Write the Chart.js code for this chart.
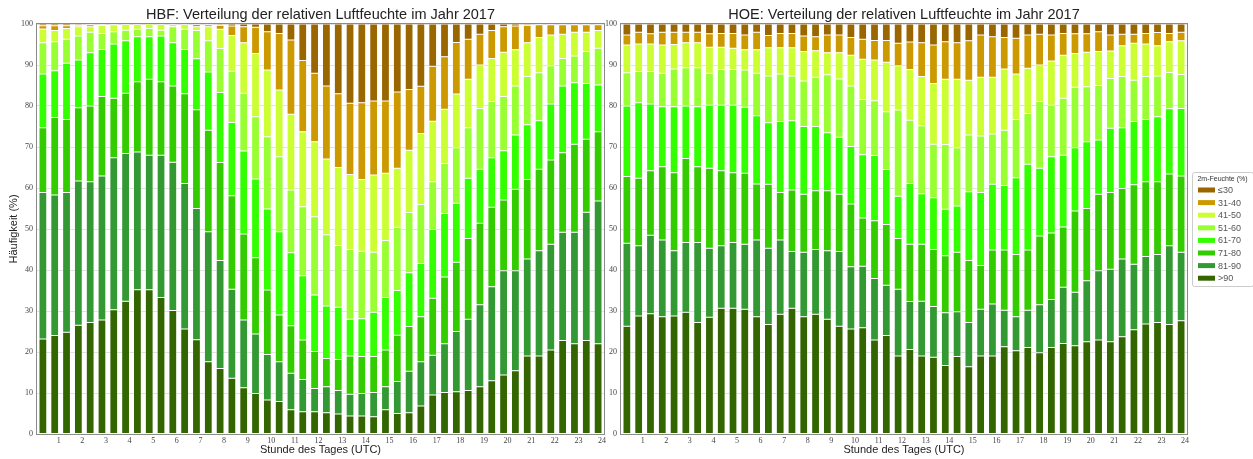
<!DOCTYPE html>
<html>
<head>
<meta charset="utf-8">
<script src="https://cdn.jsdelivr.net/npm/chart.js@4.4.1/dist/chart.umd.min.js"></script>
<style>
  html, body { margin: 0; padding: 0; background: #fff; }
  body { width: 1253px; height: 459px; position: relative; overflow: hidden; }
  .box { position: absolute; top: 0; height: 459px; }
  #boxHbf { left: 0; width: 610px; }
  #boxHoe { left: 604px; width: 649px; }
</style>
</head>
<body>
<div class="box" id="boxHbf"><canvas id="chartHbf"></canvas></div>
<div class="box" id="boxHoe"><canvas id="chartHoe"></canvas></div>
<script>
// halbstündliche Balken, beschriftet wird jede volle Stunde
const halfHours = ['00:30','01:00','01:30','02:00','02:30','03:00','03:30','04:00','04:30','05:00',
    '05:30','06:00','06:30','07:00','07:30','08:00','08:30','09:00','09:30','10:00',
    '10:30','11:00','11:30','12:00','12:30','13:00','13:30','14:00','14:30','15:00',
    '15:30','16:00','16:30','17:00','17:30','18:00','18:30','19:00','19:30','20:00',
    '20:30','21:00','21:30','22:00','22:30','23:00','23:30','24:00'];
const hourTicks = ['1','2','3','4','5','6','7','8','9','10','11','12',
    '13','14','15','16','17','18','19','20','21','22','23','24'];

// Klassen von unten nach oben
const classLabels = ['>90', '81-90', '71-80', '61-70', '51-60', '41-50', '31-40', '≤30'];
const classColors = ['#336600', '#339933', '#33cc00', '#33ff00', '#99ff33', '#ccff33', '#cc9900', '#996600'];

// Oberkante (kumuliert, %) jeder Klasse; ≤30 reicht bis 100
// HBF
const hbfGt90 = [23.2,24.0,24.8,26.5,27.2,27.8,30.3,32.4,35.2,35.2, 33.3,30.1,25.6,23.0,17.6,16.0,13.6,11.3,9.9,8.3,
    7.9,5.9,5.4,5.4,5.2,4.9,4.4,4.4,4.2,5.9, 5.0,5.2,6.8,9.5,10.1,10.3,10.6,11.5,13.0,14.4, 15.4,19.0,19.0,20.5,22.8,22.0,22.8,22.0];
const hbf81to90 = [58.9,58.3,58.9,61.7,61.5,62.9,67.4,68.4,68.8,68.0, 68.0,66.3,61.1,55.0,49.3,42.3,35.3,27.8,24.4,19.4,
    17.6,14.8,13.3,11.1,11.5,10.6,9.7,9.9,10.1,11.5, 12.8,15.3,17.6,19.2,22.0,25.0,28.0,31.5,35.9,39.8, 39.8,42.7,44.7,46.3,49.2,49.2,54.1,56.8];
const hbf71to80 = [74.7,77.2,76.7,79.6,80.0,82.3,81.9,83.1,85.9,86.5, 85.9,84.9,83.0,79.1,74.1,66.2,58.1,48.8,43.0,35.1,
    29.0,26.4,22.9,20.1,18.4,18.2,19.0,18.9,18.9,20.5, 24.1,26.2,28.6,33.1,38.3,41.9,47.7,51.4,55.3,57.1, 59.7,62.1,64.6,66.8,68.6,70.7,71.9,73.7];
const hbf61to70 = [87.8,88.6,90.4,91.2,93.0,93.8,95.1,95.9,96.9,96.9, 97.1,95.4,93.8,91.5,88.3,83.3,76.0,69.0,62.2,54.9,
    49.3,44.2,38.6,33.9,31.2,30.9,28.0,28.1,29.7,33.3, 35.0,39.3,41.6,49.9,53.8,56.3,62.4,64.6,67.4,69.1, 72.9,75.4,76.4,80.5,84.9,85.7,85.5,85.1];
const hbf51to60 = [95.4,95.7,96.3,97.1,98.0,97.7,98.1,98.5,98.7,98.9, 98.5,99.3,98.7,98.4,95.9,94.0,88.5,83.1,77.4,72.5,
    67.6,59.5,55.4,53.0,48.6,46.0,45.0,44.6,44.3,47.2, 50.4,54.0,56.0,61.5,66.0,69.8,74.7,79.4,81.1,82.3, 84.9,87.2,88.1,89.8,91.6,92.2,93.3,94.1];
const hbf41to50 = [98.8,98.4,98.9,99.3,99.3,99.7,99.8,99.9,99.9,100, 99.9,99.9,99.9,99.3,99.3,98.7,97.2,95.4,92.8,88.8,
    83.9,78.0,73.7,71.3,67.1,65.0,63.3,62.1,63.2,63.6, 64.8,69.2,73.3,76.3,79.2,82.9,86.5,90.0,91.6,93.1, 93.7,95.4,96.7,97.3,97.5,98.0,98.0,98.4];
const hbf31to40 = [99.6,99.6,99.6,99.7,99.8,99.9,100,100,100,100, 100,100,100,99.9,99.8,99.7,99.5,99.3,99.2,98.1,
    97.7,96.1,91.1,88.0,84.9,83.0,80.7,80.8,81.2,81.2, 83.4,84.0,84.8,89.7,92.0,95.5,96.3,97.5,98.4,99.3, 99.5,99.7,99.8,99.8,99.8,99.8,99.8,99.8];

// HOE
const hoeGt90 = [26.3,28.8,29.3,28.6,28.8,29.7,27.2,28.5,30.7,30.7, 30.4,28.6,26.7,29.2,30.7,28.6,29.2,28.0,26.3,25.6,
    25.9,22.9,24.0,19.0,20.6,19.0,18.7,16.7,18.9,16.4, 19.0,19.0,21.3,20.3,21.1,19.8,21.1,22.1,21.5,22.5, 22.9,22.5,23.7,25.4,26.8,27.2,26.7,27.6];
const hoe81to90 = [46.5,45.9,48.5,47.3,44.7,46.7,46.7,45.3,45.9,46.7, 46.3,47.3,45.3,47.3,44.5,44.3,45.0,44.7,44.5,40.8,
    40.9,37.9,36.3,35.3,32.3,32.4,31.1,29.6,29.8,27.2, 30.4,31.7,30.2,28.6,30.2,31.5,32.8,35.8,34.6,37.4, 39.8,40.2,42.7,41.4,43.3,43.8,45.9,44.3];
const hoe71to80 = [62.8,62.4,64.2,65.2,63.7,67.2,65.2,64.8,64.2,63.7, 63.6,61.0,60.9,58.9,59.5,58.5,59.3,59.3,58.5,56.1,
    52.7,52.0,51.1,47.7,46.3,46.3,45.0,43.5,44.3,42.3, 41.1,44.9,44.9,43.8,44.9,48.3,49.0,50.5,54.4,55.0, 58.5,58.9,59.9,60.8,61.5,61.5,63.4,62.9];
const hoe61to70 = [80.0,80.8,80.5,79.8,79.8,80.0,79.8,80.2,80.2,80.2, 79.7,77.6,75.9,76.2,76.4,75.0,75.0,73.5,72.4,70.1,
    68.1,67.9,64.5,58.0,61.1,58.6,57.6,54.8,55.6,59.1, 58.9,60.9,60.6,62.5,65.8,64.8,67.6,68.0,69.8,71.3, 71.7,74.6,74.7,76.2,76.7,77.4,79.3,79.4];
const hoe51to60 = [88.1,88.4,88.4,88.0,89.0,89.3,89.3,88.0,88.9,88.9, 88.8,88.0,87.3,87.8,87.3,86.1,87.0,87.6,86.6,84.9,
    81.6,81.3,78.6,79.0,76.5,75.2,70.7,70.6,69.8,72.9, 72.7,73.2,74.1,76.7,78.2,81.1,80.2,81.9,84.6,84.7, 85.0,86.7,87.2,86.3,87.2,87.3,88.2,87.7];
const hoe41to50 = [94.9,95.1,95.1,94.9,95.0,95.4,95.4,94.3,94.3,94.1, 93.7,93.7,94.2,94.2,94.2,93.3,93.5,93.0,93.0,92.4,
    91.4,91.2,90.7,89.8,88.9,87.2,85.5,86.5,86.5,86.3, 87.0,87.0,89.0,87.8,89.2,90.0,91.0,92.4,92.8,93.1, 93.3,93.4,94.7,95.3,95.1,94.7,95.7,95.9];
const hoe31to40 = [97.3,98.0,97.6,98.0,98.0,98.0,98.0,97.6,97.7,97.7, 97.3,98.0,97.2,97.7,97.7,97.1,96.9,97.3,97.3,96.7,
    96.3,96.0,96.0,95.3,95.6,95.4,94.9,95.7,95.4,95.9, 97.3,96.9,96.7,96.5,97.3,97.5,97.3,97.7,97.6,97.6, 98.1,97.3,97.5,97.5,97.7,97.9,97.7,98.0];

const hbfEdges = [hbfGt90, hbf81to90, hbf71to80, hbf61to70, hbf51to60, hbf41to50, hbf31to40];
const hoeEdges = [hoeGt90, hoe81to90, hoe71to80, hoe61to70, hoe51to60, hoe41to50, hoe31to40];

// Anteile je Klasse aus den kumulierten Oberkanten
function classShares(edges) {
    const tops = [...edges, halfHours.map(() => 100)];
    return tops.map((top, k) => top.map((v, i) => +(v - (k ? tops[k - 1][i] : 0)).toFixed(2)));
}

// Rahmen um die Zeichenfläche
const framePlugin = {
    id: 'frame',
    afterDraw(chart) {
        const { ctx, chartArea: a } = chart;
        ctx.save();
        ctx.strokeStyle = '#8a8a8a';
        ctx.lineWidth = 1;
        ctx.strokeRect(Math.round(a.left) - 0.5, Math.round(a.top) - 0.5, Math.round(a.width) + 1, Math.round(a.height) + 1);
        ctx.restore();
    }
};

// Legende mit Kasten rechts neben dem HOE-Diagramm
const legendBoxPlugin = {
    id: 'legendBox',
    afterDraw(chart, args, o) {
        if (!o.show) return;
        const { ctx } = chart;
        const sets = chart.data.datasets.slice().reverse();
        ctx.save();
        ctx.fillStyle = '#fff';
        ctx.strokeStyle = '#cccccc';
        ctx.lineWidth = 1;
        ctx.beginPath();
        ctx.roundRect(o.left + 0.5, o.top + 0.5, o.width, o.height, 2);
        ctx.fill();
        ctx.stroke();
        ctx.fillStyle = '#333';
        ctx.textBaseline = 'middle';
        ctx.textAlign = 'center';
        ctx.font = '7px "Liberation Sans", Arial, sans-serif';
        ctx.fillText(o.title, o.left + o.width / 2, o.top + 7);
        ctx.textAlign = 'left';
        ctx.font = '9px "Liberation Sans", Arial, sans-serif';
        sets.forEach((ds, i) => {
            const y = o.top + 18 + i * 12.6;
            ctx.fillStyle = ds.backgroundColor;
            ctx.fillRect(o.left + 6, y - 2.5, 17, 5);
            ctx.fillStyle = '#555';
            ctx.fillText(ds.label, o.left + 26, y + 0.5);
        });
        ctx.restore();
    }
};

function makeChart(canvasId, titleText, edges, withYTitle, yWidth, padRight, legend) {
    const shares = classShares(edges);
    const ctx = document.getElementById(canvasId).getContext('2d');
    return new Chart(ctx, {
        type: 'bar',
        data: {
            labels: halfHours,
            datasets: classLabels.map((lbl, k) => ({
                label: lbl,
                data: shares[k],
                backgroundColor: classColors[k],
                borderColor: 'rgba(255,255,255,0.85)',
                borderWidth: 0.5,
                borderSkipped: false,
                barPercentage: 0.66,
                categoryPercentage: 1.0
            }))
        },
        options: {
            responsive: true,
            maintainAspectRatio: false,
            animation: false,
            layout: { padding: { left: 0, right: padRight, top: 0, bottom: 0 } },
            plugins: {
                legend: { display: false },
                tooltip: { enabled: false },
                title: {
                    display: true,
                    text: titleText,
                    fullSize: false,
                    color: '#222',
                    font: { family: '"Liberation Sans", Arial, sans-serif', size: 14.5, weight: 'normal' },
                    padding: { top: 6, bottom: 0.6 }
                },
                legendBox: legend
            },
            scales: {
                x: {
                    stacked: true,
                    grid: { display: false, drawTicks: false },
                    border: { display: false },
                    ticks: {
                        autoSkip: false,
                        maxRotation: 0,
                        padding: 2,
                        labelOffset: 4,
                        color: '#444',
                        font: { family: '"Liberation Serif", serif', size: 8 },
                        callback: (v, i) => (i % 2 === 1 ? hourTicks[(i - 1) / 2] : '')
                    },
                    title: {
                        display: true,
                        text: 'Stunde des Tages (UTC)',
                        color: '#222',
                        font: { family: '"Liberation Sans", Arial, sans-serif', size: 11 },
                        padding: { top: 0, bottom: 2 }
                    },
                    afterFit: (s) => { s.height = 25; }
                },
                y: {
                    stacked: true,
                    min: 0,
                    max: 100,
                    z: 1,
                    grid: { color: 'rgba(190,190,190,0.45)', lineWidth: 1, drawTicks: false },
                    border: { display: false },
                    ticks: {
                        stepSize: 10,
                        padding: 4,
                        color: '#444',
                        font: { family: '"Liberation Serif", serif', size: 8 }
                    },
                    title: {
                        display: withYTitle,
                        text: 'Häufigkeit (%)',
                        color: '#222',
                        font: { family: '"Liberation Sans", Arial, sans-serif', size: 11 },
                        padding: { top: 7, bottom: 0 }
                    },
                    afterFit: (s) => { s.width = yWidth; }
                }
            }
        },
        plugins: [framePlugin, legendBoxPlugin]
    });
}

makeChart('chartHbf', 'HBF: Verteilung der relativen Luftfeuchte im Jahr 2017', hbfEdges, true, 37, 6, { show: false });
makeChart('chartHoe', 'HOE: Verteilung der relativen Luftfeuchte im Jahr 2017', hoeEdges, false, 17, 66,
    { show: true, title: '2m-Feuchte (%)', left: 588, top: 172, width: 61, height: 114 });
</script>
</body>
</html>
